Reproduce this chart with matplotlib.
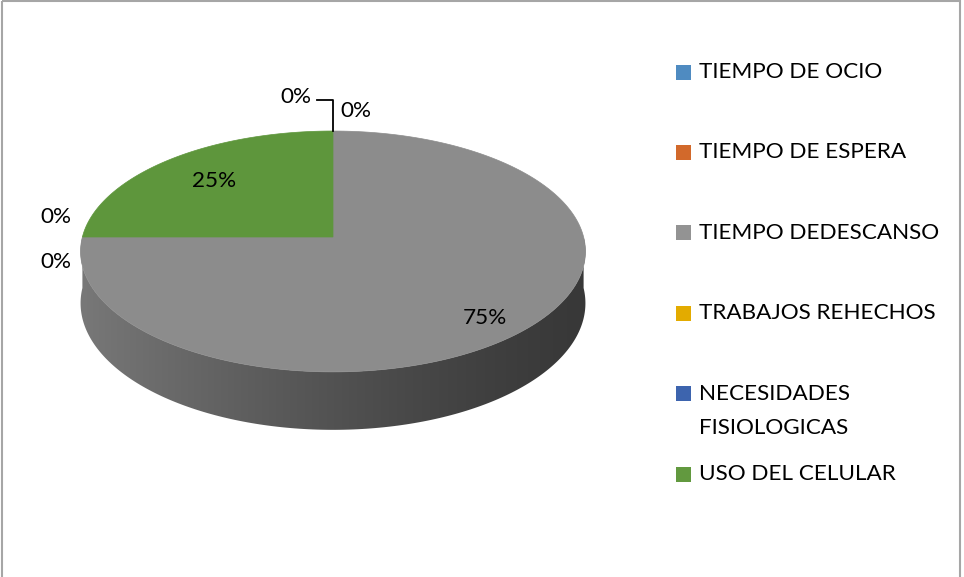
import numpy as np
import matplotlib
matplotlib.use("Agg")
import matplotlib.pyplot as plt
from matplotlib.patches import Polygon, Rectangle
from matplotlib.colors import to_rgb

# datos
categories = ["TIEMPO DE OCIO", "TIEMPO DE ESPERA", "TIEMPO DEDESCANSO",
              "TRABAJOS REHECHOS", "NECESIDADES\nFISIOLOGICAS", "USO DEL CELULAR"]
values = [0, 0, 75, 0, 0, 25]
pct_labels = ["0%", "0%", "75%", "0%", "0%", "25%"]
top_colors = ["#4F8BC1", "#D2692B", "#8C8C8C", "#E3AB00", "#3D64AE", "#5E963C"]
legend_colors = ["#4F8BC1", "#D2692B", "#939393", "#E3AB00", "#3D64AE", "#62993F"]

# posiciones de etiquetas (pixeles)
label_xy = [(356, 111), (296, 97), (485, 318), (56, 262), (56, 217), (214, 181)]

FONT = "Lato"
FS = 16.2

# geometria del pastel 3D (pixeles, con perspectiva simple)
CX, CY = 333, 237
RX, RY = 250.6, 118.7
K = 0.12
DEPTH = 51


def proj(u, v, drop=0.0):
    s = 1.0 / (1.0 + K * v)
    return CX + RX * u * s, CY - RY * v * s + drop * s


fig = plt.figure(figsize=(9.64, 5.77), dpi=100)
ax = fig.add_axes([0, 0, 1, 1])
ax.set_xlim(0, 964)
ax.set_ylim(577, 0)
ax.axis("off")

# borde del grafico
ax.add_patch(Rectangle((2, 1), 958, 620, fill=False, edgecolor="#a6a6a6", lw=1.5))

total = float(sum(values))
ends = 90 - 360 * np.cumsum(values) / total
starts = np.concatenate([[90], ends[:-1]])

# lados (solo la mitad frontal es visible)
for t1, t2, col in zip(starts, ends, top_colors):
    if t1 == t2:
        continue
    for n in range(-2, 2):
        lo = max(t2, 180 + 360 * n)
        hi = min(t1, 360 + 360 * n)
        if hi <= lo:
            continue
        t = np.radians(np.linspace(lo, hi, 200))
        xt, yt = proj(np.cos(t), np.sin(t))
        xb, yb = proj(np.cos(t[::-1]), np.sin(t[::-1]), DEPTH)
        poly = Polygon(np.column_stack([np.r_[xt, xb], np.r_[yt, yb]]),
                       closed=True, facecolor="none", edgecolor="none")
        ax.add_patch(poly)
        xs = np.linspace(0, 1, 256)
        fac = 0.40 + 0.46 * (1 - xs) ** 1.3
        grad = np.array(to_rgb(col))[None, None, :] * fac[None, :, None]
        im = ax.imshow(grad, extent=(CX - RX - 5, CX + RX + 5, CY + 250, CY - 10),
                       aspect="auto", interpolation="bilinear", zorder=1)
        im.set_clip_path(poly)

# cara superior
for t1, t2, col in zip(starts, ends, top_colors):
    if t1 == t2:
        continue
    t = np.radians(np.linspace(t1, t2, 300))
    u = np.r_[0, np.cos(t)]
    v = np.r_[0, np.sin(t)]
    x, y = proj(u, v)
    ax.add_patch(Polygon(np.column_stack([x, y]), closed=True,
                         facecolor=col, edgecolor=col, lw=0.5, zorder=2))

# etiquetas de porcentaje
for (lx, ly), txt in zip(label_xy, pct_labels):
    ax.text(lx, ly, txt, ha="center", va="center", fontsize=FS,
            family=FONT, color="black", zorder=4)

# linea guia de la etiqueta superior izquierda
rx, ry = proj(np.cos(np.radians(starts[1])), np.sin(np.radians(starts[1])))
lx, ly = label_xy[1]
ax.plot([lx + 21, rx, rx], [ly + 3, ly + 3, ry], color="black", lw=1.3, zorder=3)

# leyenda
for i, (name, col) in enumerate(zip(categories, legend_colors)):
    yc = 72 + 80.4 * i
    ax.add_patch(Rectangle((676, yc - 7.5), 15, 15, facecolor=col, edgecolor="none"))
    for j, line in enumerate(name.split("\n")):
        ax.text(699, yc + 34 * j, line, ha="left", va="center", fontsize=FS,
                family=FONT, color="black")

fig.savefig("out.png", dpi=100)
